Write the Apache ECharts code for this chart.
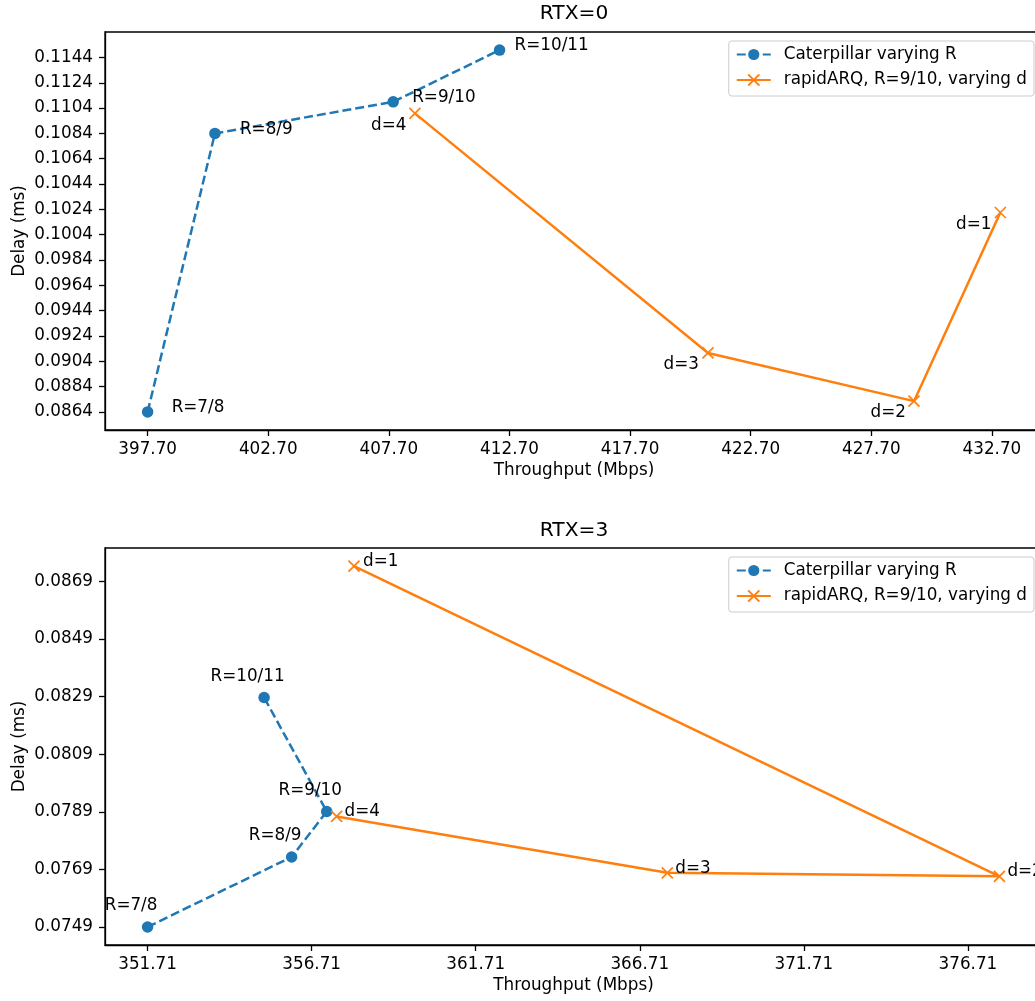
<!DOCTYPE html>
<html>
<head>
<meta charset="utf-8">
<script src="https://cdn.jsdelivr.net/npm/echarts@6/dist/echarts.min.js"></script>
<style>
html,body{margin:0;padding:0;overflow:hidden;background:#ffffff;}
#chart{width:1148px;height:1001px;}
</style>
</head>
<body>
<div id="chart"></div>
<script>
// ---------- DATA ----------
const catLabels = ['R=7/8', 'R=8/9', 'R=9/10', 'R=10/11'];
const arqLabels = ['d=4', 'd=3', 'd=2', 'd=1'];

// RTX=0
const rtx0CatThroughput = [397.70, 400.49, 407.88, 412.29];
const rtx0CatDelay      = [0.0864, 0.1084, 0.11089, 0.11498];
const rtx0ArqThroughput = [408.78, 420.93, 429.47, 433.05];
const rtx0ArqDelay      = [0.10998, 0.09106, 0.08725, 0.10215];

// RTX=3
const rtx3CatThroughput = [351.71, 356.10, 357.17, 355.26];
const rtx3CatDelay      = [0.0749, 0.07733, 0.07891, 0.08287];
const rtx3ArqThroughput = [357.47, 367.55, 377.67, 358.00];
const rtx3ArqDelay      = [0.07874, 0.07678, 0.07666, 0.087435];

// tick values
const rtx0XTicks = [397.70, 402.70, 407.70, 412.70, 417.70, 422.70, 427.70, 432.70];
const rtx0YTicks = [0.0864, 0.0884, 0.0904, 0.0924, 0.0944, 0.0964, 0.0984, 0.1004,
                    0.1024, 0.1044, 0.1064, 0.1084, 0.1104, 0.1124, 0.1144];
const rtx3XTicks = [351.71, 356.71, 361.71, 366.71, 371.71, 376.71];
const rtx3YTicks = [0.0749, 0.0769, 0.0789, 0.0809, 0.0829, 0.0849, 0.0869];

const titles = ['RTX=0', 'RTX=3'];
const seriesNames = ['Caterpillar varying R', 'rapidARQ, R=9/10, varying d'];
const xName = 'Throughput (Mbps)';
const yName = 'Delay (ms)';

// ---------- STYLE ----------
const FONT = 'DejaVu Sans';
const FS = 16.8;
const TFS = 20.2;
const BLUE = '#1f77b4';
const ORANGE = '#ff7f0e';
const CROSS = 'path://M0,0L10,10M10,0L0,10';

// label placement (pixels, relative to marker centre)
const rtx0CatLabelPos = [[24, -4.5], [25, -4], [19, -4], [15, -4.5]];
const rtx0ArqLabelPos = [[-8.5, 12], [-9, 12], [-8, 12], [-9, 12]];
const rtx3CatLabelPos = [[-16.5, -21], [-16.5, -21], [-16.5, -21], [-16.5, -21]];
const rtx3ArqLabelPos = [[8, -4.5], [8, -4.5], [8, -5], [9, -4.5]];

function points(xs, ys, names, pos, align) {
  return xs.map((x, i) => ({
    name: names[i],
    value: [x, ys[i]],
    label: { align: align, offset: pos[i] }
  }));
}

const padMin = e => e.min - 0.05 * (e.max - e.min);
const padMax = e => e.max + 0.05 * (e.max - e.min);

function xAxis(gridIndex, ticks) {
  return {
    type: 'value', gridIndex: gridIndex, min: padMin, max: padMax, scale: true,
    name: xName, nameLocation: 'middle', nameGap: 32, nameMoveOverlap: false,
    nameTextStyle: { fontFamily: FONT, fontSize: FS, color: '#000' },
    axisLine: { show: true, lineStyle: { color: '#000', width: 1.3 } },
    axisTick: { show: true, length: 6, inside: false, customValues: ticks, lineStyle: { color: '#000', width: 1.3 } },
    axisLabel: { customValues: ticks, margin: 11, fontFamily: FONT, fontSize: FS, color: '#000',
                 formatter: v => Number(v).toFixed(2) },
    splitLine: { show: false }
  };
}
function yAxis(gridIndex, ticks) {
  return {
    type: 'value', gridIndex: gridIndex, min: padMin, max: padMax, scale: true,
    name: yName, nameLocation: 'middle', nameGap: 77, nameRotate: 90, nameMoveOverlap: false,
    nameTextStyle: { fontFamily: FONT, fontSize: FS, color: '#000' },
    axisLine: { show: true, lineStyle: { color: '#000', width: 1.3 } },
    axisTick: { show: true, length: 6, inside: false, customValues: ticks, lineStyle: { color: '#000', width: 1.3 } },
    axisLabel: { customValues: ticks, margin: 12, fontFamily: FONT, fontSize: FS, color: '#000',
                 formatter: v => Number(v).toFixed(4) },
    splitLine: { show: false }
  };
}

const labelBase = { show: true, position: 'inside', formatter: '{b}', color: '#000',
                    fontFamily: FONT, fontSize: FS, verticalAlign: 'middle' };

function catSeries(idx, xs, ys, pos, align) {
  return {
    type: 'line', name: seriesNames[0], xAxisIndex: idx, yAxisIndex: idx,
    data: points(xs, ys, catLabels, pos, align),
    symbol: 'circle', symbolSize: 11.5, showSymbol: true,
    itemStyle: { color: BLUE },
    lineStyle: { color: BLUE, width: 2.5, type: [9, 4] },
    label: labelBase, emphasis: { disabled: true }, z: 2
  };
}
function arqSeries(idx, xs, ys, pos, align) {
  return {
    type: 'line', name: seriesNames[1], xAxisIndex: idx, yAxisIndex: idx,
    data: points(xs, ys, arqLabels, pos, align),
    symbol: CROSS, symbolSize: 11, showSymbol: true,
    itemStyle: { color: ORANGE, borderColor: ORANGE, borderWidth: 1.7 },
    lineStyle: { color: ORANGE, width: 2.5, type: 'solid' },
    label: labelBase, emphasis: { disabled: true }, z: 3
  };
}

function legend(top) {
  return {
    orient: 'vertical', right: 114, top: top, selectedMode: false,
    itemWidth: 34, itemHeight: 14, itemGap: 8.5,
    padding: [5, 7, 7.5, 7],
    borderColor: '#cccccc', borderWidth: 1, borderRadius: 3,
    backgroundColor: 'rgba(255,255,255,0.8)',
    textStyle: { fontFamily: FONT, fontSize: FS, color: '#000', padding: [0, 0, 0, 8] },
    data: seriesNames
  };
}

const chart = echarts.init(document.getElementById('chart'), null, { renderer: 'canvas' });
chart.setOption({
  animation: false,
  backgroundColor: '#ffffff',
  title: [
    { text: titles[0], left: 'center', top: 4, padding: 0,
      textStyle: { fontFamily: FONT, fontSize: TFS, fontWeight: 'normal', color: '#000' } },
    { text: titles[1], left: 'center', top: 521, padding: 0,
      textStyle: { fontFamily: FONT, fontSize: TFS, fontWeight: 'normal', color: '#000' } }
  ],
  legend: [legend(41), legend(557)],
  grid: [
    { left: 105, right: 105, top: 32, height: 398, show: true, borderColor: '#000', borderWidth: 1.3,
      backgroundColor: 'transparent', outerBoundsMode: 'none' },
    { left: 105, right: 106, top: 548, height: 397, show: true, borderColor: '#000', borderWidth: 1.3,
      backgroundColor: 'transparent', outerBoundsMode: 'none' }
  ],
  xAxis: [xAxis(0, rtx0XTicks), xAxis(1, rtx3XTicks)],
  yAxis: [yAxis(0, rtx0YTicks), yAxis(1, rtx3YTicks)],
  series: [
    catSeries(0, rtx0CatThroughput, rtx0CatDelay, rtx0CatLabelPos, 'left'),
    arqSeries(0, rtx0ArqThroughput, rtx0ArqDelay, rtx0ArqLabelPos, 'right'),
    catSeries(1, rtx3CatThroughput, rtx3CatDelay, rtx3CatLabelPos, 'center'),
    arqSeries(1, rtx3ArqThroughput, rtx3ArqDelay, rtx3ArqLabelPos, 'left')
  ]
});
</script>
</body>
</html>
